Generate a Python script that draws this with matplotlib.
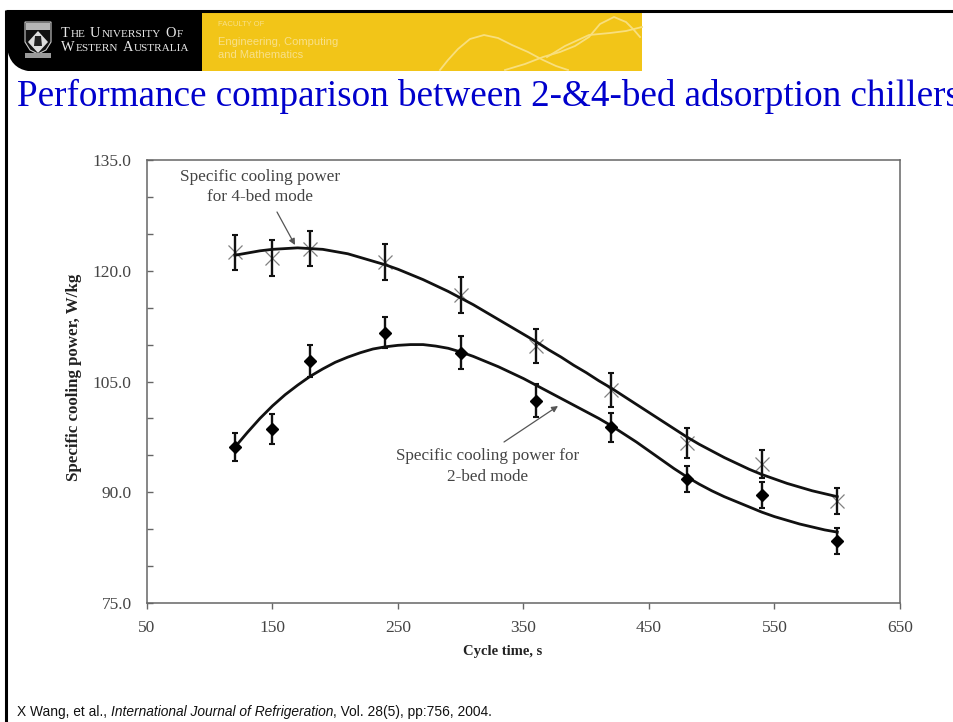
import matplotlib
matplotlib.use("Agg")
import matplotlib.pyplot as plt
from matplotlib.patches import PathPatch, Polygon, Rectangle
from matplotlib.path import Path

W = 954
H = 722
SERIF = "Liberation Serif"
SANS = "Liberation Sans"

# measured points
cycle_time = [120, 150, 180, 240, 300, 360, 420, 480, 540, 600]
power_4bed = [122.5, 121.7, 123.0, 121.2, 116.7, 109.8, 103.9, 96.7, 93.8, 88.8]
error_4bed = [2.4, 2.4, 2.4, 2.4, 2.4, 2.3, 2.3, 2.0, 1.9, 1.8]
power_2bed = [96.1, 98.6, 107.8, 111.6, 108.9, 102.4, 98.8, 91.8, 89.6, 83.4]
error_2bed = [1.9, 2.0, 2.2, 2.1, 2.2, 2.2, 2.0, 1.8, 1.8, 1.7]

# fitted curves, every 10 s
curve_x = list(range(120, 610, 10))
curve_4bed = [122.1, 122.4, 122.7, 122.9, 123.0, 123.1, 123.0, 122.9, 122.6, 122.3,
              121.8, 121.3, 120.8, 120.2, 119.5, 118.8, 118.0, 117.2, 116.3, 115.4,
              114.4, 113.4, 112.4, 111.4, 110.4, 109.3, 108.3, 107.2, 106.2, 105.1,
              104.1, 103.0, 101.9, 100.8, 99.7, 98.6, 97.5, 96.5, 95.6, 94.7,
              93.9, 93.1, 92.4, 91.8, 91.2, 90.7, 90.2, 89.8, 89.4]
curve_2bed = [96.1, 98.1, 100.0, 101.7, 103.2, 104.5, 105.7, 106.7, 107.6, 108.3,
              108.9, 109.4, 109.7, 109.9, 110.0, 110.0, 109.8, 109.5, 109.0, 108.4,
              107.7, 107.0, 106.2, 105.4, 104.5, 103.6, 102.7, 101.8, 100.9, 100.0,
              99.0, 97.9, 96.8, 95.6, 94.4, 93.2, 92.1, 91.1, 90.2, 89.4,
              88.7, 88.0, 87.3, 86.7, 86.2, 85.7, 85.3, 84.9, 84.6]

x_ticks = [50, 150, 250, 350, 450, 550, 650]
y_ticks = [75, 90, 105, 120, 135]
y_minor = [80, 85, 95, 100, 110, 115, 125, 130]

fig = plt.figure(figsize=(W / 100, H / 100), dpi=100, facecolor="white")
renderer = fig.canvas.get_renderer()

# slide furniture goes on a full size overlay in pixel coordinates
slide = fig.add_axes([0, 0, 1, 1])
slide.set_xlim(0, W)
slide.set_ylim(H, 0)
slide.axis("off")


def small_caps(x, y, words):
    # small caps by hand: first letter of each word is bigger
    for word in words:
        head = slide.text(x, y, word[0], family=SERIF, fontsize=10.4, color="#e8e8e8",
                          va="baseline", ha="left")
        x += head.get_window_extent(renderer).width + 1
        if len(word) > 1:
            tail = slide.text(x, y, word[1:], family=SERIF, fontsize=8.1, color="#e8e8e8",
                              va="baseline", ha="left")
            x += tail.get_window_extent(renderer).width
        x += 4.5


slide.plot([6, W], [10.5, 10.5], color="black", lw=2.2, solid_capstyle="butt")
slide.plot([6.5, 6.5], [10, H], color="black", lw=2.2, solid_capstyle="butt")

banner = Path([(7, 11), (202, 11), (202, 71), (28, 71), (10, 68), (7, 48), (7, 11)],
              [Path.MOVETO, Path.LINETO, Path.LINETO, Path.LINETO,
               Path.CURVE3, Path.CURVE3, Path.CLOSEPOLY])
slide.add_patch(PathPatch(banner, facecolor="black", edgecolor="none"))
slide.add_patch(Rectangle((202, 12), 440, 59, facecolor="#f2c518", edgecolor="none"))

# crest
slide.add_patch(Polygon([(25, 22), (51, 22), (51, 42), (46, 50), (38, 54), (30, 50), (25, 42)],
                        facecolor="#111111", edgecolor="#cccccc", lw=0.8))
slide.add_patch(Rectangle((26, 23), 24, 7, facecolor="#b5b5b5", edgecolor="none"))
slide.add_patch(Polygon([(38, 31), (48, 42), (38, 53), (28, 42)],
                        facecolor="#dddddd", edgecolor="none"))
slide.add_patch(Polygon([(35, 36), (41, 36), (42, 46), (34, 46)],
                        facecolor="#222222", edgecolor="none"))
slide.add_patch(Rectangle((25, 53), 26, 5, facecolor="#999999", edgecolor="none"))

small_caps(61, 37, ["THE", "UNIVERSITY", "OF"])
small_caps(61, 51, ["WESTERN", "AUSTRALIA"])

slide.text(218, 24, "FACULTY OF", family=SANS, fontsize=5.5, color="#f8e08a",
           va="center", ha="left")
slide.text(218, 42, "Engineering, Computing", family=SANS, fontsize=8, color="#f8e08a",
           va="center", ha="left")
slide.text(218, 55, "and Mathematics", family=SANS, fontsize=8, color="#f8e08a",
           va="center", ha="left")

# banner waves
wave_a = [(440, 70), (448, 60), (458, 49), (470, 39), (484, 35), (498, 38), (512, 45),
          (528, 52), (543, 60), (556, 66), (568, 70)]
wave_b = [(505, 70), (525, 64), (543, 57), (560, 52), (575, 46), (589, 37), (600, 24),
          (614, 17), (626, 22), (634, 30), (640, 37)]
wave_c = [(547, 57), (565, 46), (589, 35), (610, 33), (626, 31), (642, 27)]
for wave in [wave_a, wave_b, wave_c]:
    slide.plot([p[0] for p in wave], [p[1] for p in wave], color="#f8df7e", lw=1.3)

slide.text(17, 105.5, "Performance comparison between 2-&4-bed adsorption chillers",
           family=SERIF, fontsize=26.7, color="#0000cc", va="baseline", ha="left")

part = slide.text(17, 716, "X Wang, et al., ", family=SANS, fontsize=9.9, color="#111111",
                  va="baseline", ha="left")
part = slide.annotate("International Journal of Refrigeration", xy=(1, 0), xycoords=part,
                      family=SANS, style="italic", fontsize=9.9, color="#111111",
                      va="bottom", ha="left")
slide.annotate(", Vol. 28(5), pp:756, 2004.", xy=(1, 0), xycoords=part,
               family=SANS, fontsize=9.9, color="#111111", va="bottom", ha="left")

# the chart
ax = fig.add_axes([147 / W, 1 - 603 / H, 753 / W, 443 / H])
ax.set_xlim(50, 650)
ax.set_ylim(75, 135)
ax.patch.set_alpha(0)

ax.plot(curve_x, curve_4bed, color="#111111", lw=2, zorder=3)
ax.plot(curve_x, curve_2bed, color="#111111", lw=2, zorder=3)
ax.plot(cycle_time, power_4bed, ls="none", marker="x", ms=10.5, mew=0.9,
        color="#808080", zorder=2)
ax.errorbar(cycle_time, power_4bed, yerr=error_4bed, fmt="none", ecolor="#111111",
            elinewidth=1.7, capsize=2.5, capthick=1.5, zorder=4)
ax.errorbar(cycle_time, power_2bed, yerr=error_2bed, fmt="D", ms=6.5, color="black",
            ecolor="#111111", elinewidth=1.7, capsize=2.5, capthick=1.5, zorder=4)

for side in ["top", "right", "left", "bottom"]:
    ax.spines[side].set_color("#666666")
    ax.spines[side].set_linewidth(1.1)

ax.set_xticks(x_ticks)
ax.set_yticks(y_ticks)
ax.set_yticks(y_minor, minor=True)
ax.set_yticklabels([f"{v:.1f}" for v in y_ticks])
ax.tick_params(axis="x", which="major", direction="out", length=4, width=1,
               color="#666666", labelcolor="#444444", labelsize=12.5, pad=8)
ax.tick_params(axis="y", which="both", direction="in", length=4, width=1,
               color="#666666", labelcolor="#444444", labelsize=12.5, pad=11)
for label in ax.get_xticklabels() + ax.get_yticklabels():
    label.set_family(SERIF)

# callouts and axis titles, on top of the chart
notes = fig.add_axes([0, 0, 1, 1])
notes.set_xlim(0, W)
notes.set_ylim(H, 0)
notes.axis("off")
notes.text(503, 651, "Cycle time, s", family=SERIF, fontweight="bold", fontsize=10.5,
           color="#222222", ha="center", va="center")
notes.text(74, 377, "Specific cooling power, W/kg", family=SERIF, fontweight="bold",
           fontsize=12.2, color="#222222", rotation=90, ha="center", va="center")
notes.text(260, 177, "Specific cooling power", family=SERIF, fontsize=12.4, color="#444444",
           ha="center", va="center")
notes.text(260, 197, "for 4-bed mode", family=SERIF, fontsize=12.4, color="#444444",
           ha="center", va="center")
notes.text(488, 456, "Specific cooling power for", family=SERIF, fontsize=12.3, color="#444444",
           ha="center", va="center")
notes.text(488, 477, "2-bed mode", family=SERIF, fontsize=12.3, color="#444444",
           ha="center", va="center")
notes.annotate("", xy=(295, 245), xytext=(277, 212),
               arrowprops=dict(arrowstyle="-|>", color="#555555", lw=0.9, mutation_scale=9,
                               shrinkA=0, shrinkB=0))
notes.annotate("", xy=(558, 406), xytext=(504, 442),
               arrowprops=dict(arrowstyle="-|>", color="#555555", lw=0.9, mutation_scale=9,
                               shrinkA=0, shrinkB=0))

fig.savefig("out.png", dpi=100)
